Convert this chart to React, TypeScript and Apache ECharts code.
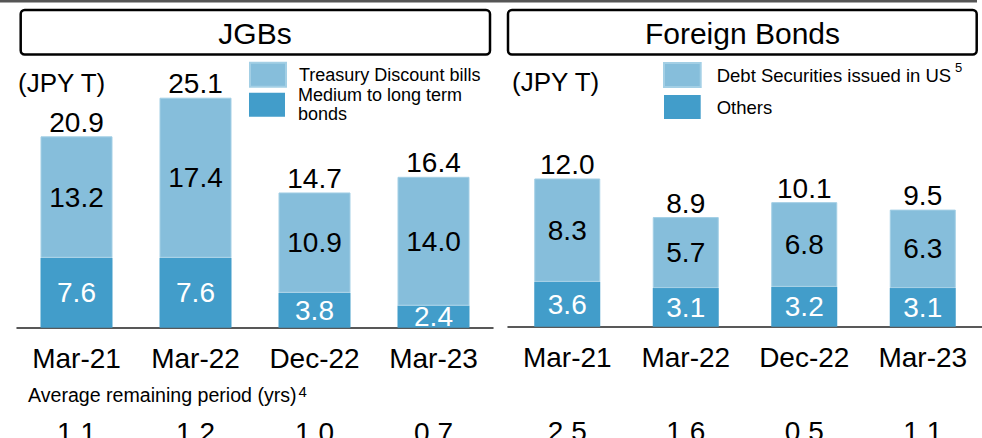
import React, { useEffect, useRef } from "react";
import * as echarts from "echarts";

const categories = ["Mar-21", "Mar-22", "Dec-22", "Mar-23"];
const jgbMediumLong = [7.6, 7.6, 3.8, 2.4];
const jgbTreasuryBills = [13.2, 17.4, 10.9, 14.0];
const jgbTotals = [20.9, 25.1, 14.7, 16.4];
const jgbAvgRemaining = ["1.1", "1.2", "1.0", "0.7"];
const foreignOthers = [3.6, 3.1, 3.2, 3.1];
const foreignUS = [8.3, 5.7, 6.8, 6.3];
const foreignTotals = [12.0, 8.9, 10.1, 9.5];
const foreignAvgRemaining = ["2.5", "1.6", "0.5", "1.1"];

const FONT = "'Liberation Sans', Arial, Helvetica, sans-serif";
const LIGHT = "#86bedb";
const DARK = "#429dca";

function fmt(v: number) {
  return v.toFixed(1);
}

function text(x: number, y: number, t: string, size: number, align = "left", vAlign = "middle") {
  return {
    type: "text",
    x,
    y,
    silent: true,
    style: {
      text: t,
      fontSize: size,
      fontFamily: FONT,
      fill: "#000",
      align,
      verticalAlign: vAlign,
    },
  };
}

export default function App() {
  const ref = useRef<HTMLDivElement>(null);
  useEffect(() => {
    if (!ref.current) return;
    const chart = echarts.init(ref.current, undefined, { renderer: "svg" });

    const catAxis = (gridIndex: number) => ({
      type: "category",
      gridIndex,
      data: categories,
      axisTick: { show: false },
      axisLine: { show: true, lineStyle: { color: "#222", width: 1.5 } },
      axisLabel: { fontSize: 28, lineHeight: 28, fontFamily: FONT, color: "#000", margin: 17 },
    });
    const avgAxis = (gridIndex: number, data: string[]) => ({
      type: "category",
      gridIndex,
      position: "bottom",
      offset: 74,
      data,
      axisTick: { show: false },
      axisLine: { show: false },
      axisLabel: { fontSize: 28, lineHeight: 28, fontFamily: FONT, color: "#000", margin: 17 },
    });
    const valAxis = (gridIndex: number, max: number) => ({
      type: "value",
      gridIndex,
      min: 0,
      max,
      show: false,
      splitLine: { show: false },
    });

    const segLabel = (color: string) => ({
      show: true,
      position: "inside",
      fontSize: 28,
      fontFamily: FONT,
      color,
      formatter: (p: any) => fmt(p.value),
    });

    const barSeries = (
      name: string,
      data: number[],
      color: string,
      labelColor: string,
      xi: number,
      yi: number,
      stack: string,
      width: number,
      border?: string
    ) => ({
      type: "bar",
      name,
      data,
      stack,
      xAxisIndex: xi,
      yAxisIndex: yi,
      barWidth: width,
      itemStyle: border ? { color, borderColor: border, borderWidth: 1 } : { color },
      label: segLabel(labelColor),
    });

    const totalSeries = (totals: number[], xi: number, yi: number, stack: string, width: number) => ({
      type: "bar",
      name: stack + "-total",
      data: totals.map(() => 0),
      stack,
      xAxisIndex: xi,
      yAxisIndex: yi,
      barWidth: width,
      itemStyle: { color: "transparent" },
      label: {
        show: true,
        position: "top",
        distance: 0,
        fontSize: 28,
        fontFamily: FONT,
        color: "#000",
        formatter: (p: any) => fmt(totals[p.dataIndex]),
      },
    });

    const legendBase = {
      orient: "vertical",
      padding: 0,
      itemHeight: 24,
      icon: "rect",
      selectedMode: false,
    };

    const option: any = {
      animation: false,
      backgroundColor: "#fff",
      grid: [
        { left: 17, right: 489, top: 51.7, bottom: 110.3, outerBoundsMode: "none", containLabel: false },
        { left: 508, right: 0, top: 77.6, bottom: 111.3, outerBoundsMode: "none", containLabel: false },
      ],
      xAxis: [
        catAxis(0),
        avgAxis(0, jgbAvgRemaining),
        catAxis(1),
        avgAxis(1, foreignAvgRemaining),
      ],
      yAxis: [valAxis(0, 30), valAxis(1, 20)],
      legend: [
        {
          ...legendBase,
          left: 249,
          top: 61.7,
          itemWidth: 36,
          data: ["Treasury Discount bills"],
          textStyle: { fontSize: 18, lineHeight: 18, fontFamily: FONT, color: "#000", padding: [0, 0, 0, 8] },
        },
        {
          ...legendBase,
          left: 249,
          top: 81.7,
          itemWidth: 36,
          data: ["Medium to long term bonds"],
          formatter: () => "Medium to long term\nbonds",
          textStyle: { fontSize: 18, lineHeight: 19, fontFamily: FONT, color: "#000", padding: [8, 0, 0, 8] },
        },
        {
          ...legendBase,
          left: 663,
          top: 62,
          itemWidth: 36.7,
          itemGap: 7,
          data: ["Debt Securities issued in US", "Others"],
          textStyle: { fontSize: 18.5, lineHeight: 19, fontFamily: FONT, color: "#000", padding: [0, 0, 0, 11] },
        },
      ],
      series: [
        barSeries("Medium to long term bonds", jgbMediumLong, DARK, "#fff", 0, 0, "jgb", 72),
        barSeries("Treasury Discount bills", jgbTreasuryBills, LIGHT, "#000", 0, 0, "jgb", 72, "#a3cfe5"),
        totalSeries(jgbTotals, 0, 0, "jgb", 72),
        barSeries("Others", foreignOthers, DARK, "#fff", 2, 1, "fb", 66),
        barSeries("Debt Securities issued in US", foreignUS, LIGHT, "#000", 2, 1, "fb", 66, "#a3cfe5"),
        totalSeries(foreignTotals, 2, 1, "fb", 66),
      ],
      graphic: [
        {
          type: "rect",
          silent: true,
          shape: { x: 0, y: 0, width: 977, height: 2.5 },
          style: { fill: "#555" },
        },
        {
          type: "rect",
          silent: true,
          shape: { x: 20.7, y: 10, width: 469.3, height: 44.5, r: 4 },
          style: { fill: "#fff", stroke: "#000", lineWidth: 2.5 },
        },
        {
          type: "rect",
          silent: true,
          shape: { x: 508, y: 10, width: 468.7, height: 44.5, r: 4 },
          style: { fill: "#fff", stroke: "#000", lineWidth: 2.5 },
        },
        text(255, 33.5, "JGBs", 30, "center"),
        text(742.5, 33.5, "Foreign Bonds", 30, "center"),
        text(18, 83, "(JPY T)", 26),
        text(512, 82, "(JPY T)", 26),
        text(955, 67.5, "5", 13),
        text(28, 395, "Average remaining period (yrs)", 19.6),
        text(298.5, 391, "4", 15),
      ],
    };

    chart.setOption(option);
    return () => chart.dispose();
  }, []);

  return (
    <div
      ref={ref}
      style={{ position: "fixed", left: 0, top: 0, width: 982, height: 438, background: "#fff" }}
    />
  );
}
